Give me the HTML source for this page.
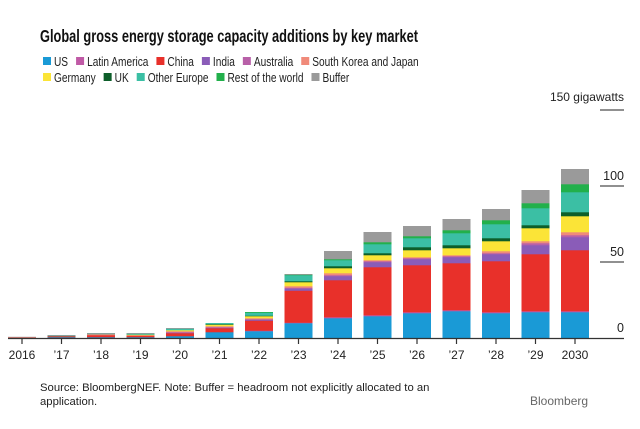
<!DOCTYPE html>
<html><head><meta charset="utf-8"><style>
body{margin:0;background:#fff;width:640px;height:424px;overflow:hidden;font-family:"Liberation Sans",sans-serif;}
</style></head><body>
<svg id="s" width="640" height="424" xmlns="http://www.w3.org/2000/svg" font-family="Liberation Sans, sans-serif">
<text x="40" y="42" font-size="17.5" font-weight="bold" fill="#111" textLength="378" lengthAdjust="spacingAndGlyphs">Global gross energy storage capacity additions by key market</text>
<g id="leg" font-size="12.5" fill="#222"></g>
<text x="624" y="101" font-size="12" text-anchor="end" fill="#222">150 gigawatts</text>
<line x1="600" y1="110" x2="624" y2="110" stroke="#222" stroke-width="1"/>
<line x1="600" y1="186" x2="624" y2="186" stroke="#222" stroke-width="1"/>
<line x1="600" y1="262" x2="624" y2="262" stroke="#222" stroke-width="1"/>
<text x="624" y="180" font-size="12.5" text-anchor="end" fill="#222">100</text>
<text x="624" y="256" font-size="12.5" text-anchor="end" fill="#222">50</text>
<text x="624" y="332" font-size="12.5" text-anchor="end" fill="#222">0</text>
<g id="bars"></g>
<line x1="8" y1="338.5" x2="624" y2="338.5" stroke="#333" stroke-width="1.2"/>
<g id="ax" font-size="12" fill="#222" text-anchor="middle"></g>
<text x="40" y="391" font-size="11.3" fill="#222">Source: BloombergNEF. Note: Buffer = headroom not explicitly allocated to an</text>
<text x="40" y="405" font-size="11.3" fill="#222">application.</text>
<text x="530" y="405" font-size="12" fill="#666">Bloomberg</text>
</svg>
<script>
var C=["#1a9ad6","#c05aa6","#e8302a","#8a5cb8","#b860a8","#f08a7a","#fbe437","#0d5e2a","#3bbfa4","#22b04b","#9a9a9a"];
var L=[["US","Latin America","China","India","Australia","South Korea and Japan"],["Germany","UK","Other Europe","Rest of the world","Buffer"]];
var ns="http://www.w3.org/2000/svg";
function el(t,a,p,txt){var e=document.createElementNS(ns,t);for(var k in a)e.setAttribute(k,a[k]);if(txt)e.textContent=txt;document.getElementById(p).appendChild(e);return e;}
var ci=0;
[[43,66],[43,82]].forEach(function(r,ri){var x=r[0];L[ri].forEach(function(n){el("rect",{x:x,y:r[1]-9,width:8,height:8,fill:C[ci]},"leg");var t=el("text",{x:x+11,y:r[1]},"leg",n);var w=t.getComputedTextLength()*0.81;t.setAttribute("textLength",w);t.setAttribute("lengthAdjust","spacingAndGlyphs");x+=11+w+8;ci++;});});
var D=[
[0.3,0,0.3,0,0,0.3,0,0,0,0,0.3],
[1,0,1,0,0,0,0,0,0.5,0,0.5],
[1,0,2,0,0,1,0,0,0.5,0,0.5],
[1,0,1.5,0,0,0.5,0.5,0,1,0,0.5],
[2,0,3,0.5,0.5,1,1,0,1.5,0,0.5],
[6,0,4,0.5,0.5,1,1.5,0.5,1,0,0],
[7,0.5,10,1,0.5,1,2,0.5,3,0.5,0],
[15,0.5,32,2,1,1.5,4,1,6,0.5,0.5],
[20,1,37,4,1,2,5,2,6,1,8],
[22,1,48,5,1,1,5,2,9,2,10],
[25,1,47,6,1,1,7,3,9,2,10],
[27,1,47,6,1,1,7,3,12,3,11],
[25,1,51,7,1,2,10,3,14,4,11],
[26,1,57,9,2,2,13,3,17,5,13],
[26,1,61,13,2,3,16,4,20,8,15]];
var lab=["2016","'17","'18","'19","'20","'21","'22","'23","'24","'25","'26","'27","'28","'29","2030"];
D.forEach(function(d,i){var cx=22+i*39.5;var y=338;d.forEach(function(h,j){if(h>0){y-=h;el("rect",{x:cx-14,y:y,width:28,height:h+0.3,fill:C[j]},"bars");}});
el("line",{x1:cx,y1:338,x2:cx,y2:344,stroke:"#333","stroke-width":1.2},"ax");
el("text",{x:cx,y:359},"ax",lab[i].replace("'","\u2019"));});
</script>
</body></html>
